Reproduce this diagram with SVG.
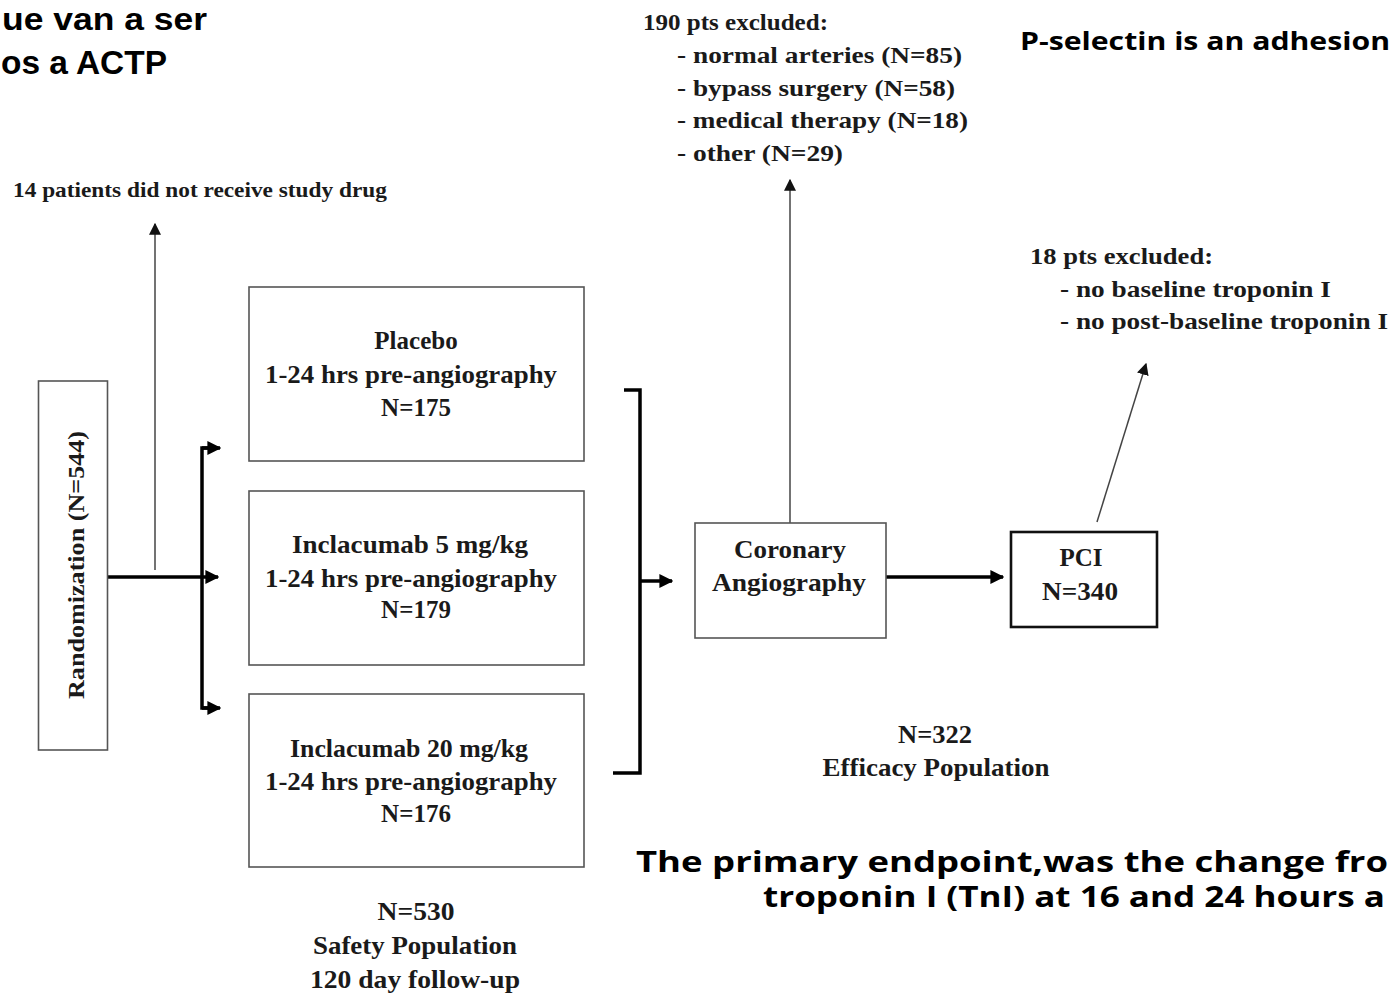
<svg xmlns="http://www.w3.org/2000/svg" width="1393" height="994" viewBox="0 0 1393 994">
<style>
.box{fill:#fff;stroke:#555;stroke-width:1.6}
.t{font-family:"Liberation Serif","Times New Roman",serif;font-weight:bold;fill:#1a1a1a}
.c{text-anchor:middle}
.big{font-family:"Open Sans","Liberation Sans",sans-serif;font-weight:bold;fill:#000}
.hd{font-family:"Liberation Sans",Arial,sans-serif;font-weight:bold;fill:#000}
.thick{stroke:#000;stroke-width:3.5;fill:none}
.thin{stroke:#444;stroke-width:1.5;fill:none}
</style>
<defs>
<marker id="ah" viewBox="0 0 10 10" refX="9" refY="5" markerWidth="4" markerHeight="4" markerUnits="strokeWidth" orient="auto"><path d="M0,0 L10,5 L0,10 Z" fill="#000"/></marker>
<marker id="ahThin" viewBox="0 0 10 10" refX="9" refY="5" markerWidth="8" markerHeight="8" markerUnits="strokeWidth" orient="auto"><path d="M0,0 L10,5 L0,10 Z" fill="#111"/></marker>
</defs>
<rect width="1393" height="994" fill="#fff"/>

<g id="header">
<text class="hd" x="2" y="30" font-size="32" textLength="205" lengthAdjust="spacingAndGlyphs">ue van a ser</text>
<text class="hd" x="1" y="74" font-size="34" textLength="166" lengthAdjust="spacingAndGlyphs">os a ACTP</text>
<text class="big" x="1020" y="50" font-size="25" textLength="370" lengthAdjust="spacingAndGlyphs">P-selectin is an adhesion</text>
</g>

<g id="connectors">
<path class="thick" d="M107,577 H218" marker-end="url(#ah)"/>
<path class="thin" d="M155,570 V224" marker-end="url(#ahThin)"/>
<path class="thick" d="M218,448 H202 V708 H218"/>
<path class="thick" d="M202,448 H220" marker-end="url(#ah)"/>
<path class="thick" d="M202,708 H220" marker-end="url(#ah)"/>
<path class="thick" d="M624,390 H640 V773 H613"/>
<path class="thick" d="M640,581 H672" marker-end="url(#ah)"/>
<path class="thick" d="M886,577 H1003" marker-end="url(#ah)"/>
<path class="thin" d="M790,523 V180" marker-end="url(#ahThin)"/>
<path class="thin" d="M1097,522 L1146,364" marker-end="url(#ahThin)"/>
</g>

<g id="excluded14">
<text class="t" x="13" y="197" font-size="21" textLength="374" lengthAdjust="spacingAndGlyphs">14 patients did not receive study drug</text>
</g>

<g id="randomization">
<rect class="box" x="38.5" y="381" width="69" height="369"/>
<text class="t c" transform="translate(84,565) rotate(-90)" font-size="23" textLength="268" lengthAdjust="spacingAndGlyphs">Randomization (N=544)</text>
</g>

<g id="placebo">
<rect class="box" x="249" y="287" width="335" height="174"/>
<text class="t c" x="416" y="349" font-size="25">Placebo</text>
<text class="t c" x="411" y="383" font-size="25" textLength="292" lengthAdjust="spacingAndGlyphs">1-24 hrs pre-angiography</text>
<text class="t c" x="416" y="416" font-size="25">N=175</text>
</g>

<g id="inclacumab5">
<rect class="box" x="249" y="491" width="335" height="174"/>
<text class="t c" x="410" y="553" font-size="25" textLength="236" lengthAdjust="spacingAndGlyphs">Inclacumab 5 mg/kg</text>
<text class="t c" x="411" y="587" font-size="25" textLength="292" lengthAdjust="spacingAndGlyphs">1-24 hrs pre-angiography</text>
<text class="t c" x="416" y="618" font-size="25">N=179</text>
</g>

<g id="inclacumab20">
<rect class="box" x="249" y="694" width="335" height="173"/>
<text class="t c" x="409" y="757" font-size="25" textLength="238" lengthAdjust="spacingAndGlyphs">Inclacumab 20 mg/kg</text>
<text class="t c" x="411" y="790" font-size="25" textLength="292" lengthAdjust="spacingAndGlyphs">1-24 hrs pre-angiography</text>
<text class="t c" x="416" y="822" font-size="25">N=176</text>
</g>

<g id="safety">
<text class="t c" x="416" y="920" font-size="25" textLength="77" lengthAdjust="spacingAndGlyphs">N=530</text>
<text class="t c" x="415" y="954" font-size="25" textLength="204" lengthAdjust="spacingAndGlyphs">Safety Population</text>
<text class="t c" x="415" y="988" font-size="25" textLength="210" lengthAdjust="spacingAndGlyphs">120 day follow-up</text>
</g>

<g id="coronary">
<rect class="box" x="695" y="523" width="191" height="115"/>
<text class="t c" x="790" y="558" font-size="26" textLength="112" lengthAdjust="spacingAndGlyphs">Coronary</text>
<text class="t c" x="789" y="591" font-size="26" textLength="154" lengthAdjust="spacingAndGlyphs">Angiography</text>
</g>

<g id="excluded190">
<text class="t" x="643" y="30" font-size="24" textLength="185" lengthAdjust="spacingAndGlyphs">190 pts excluded:</text>
<text class="t" x="677" y="63" font-size="24" textLength="285" lengthAdjust="spacingAndGlyphs">- normal arteries (N=85)</text>
<text class="t" x="677" y="96" font-size="24" textLength="278" lengthAdjust="spacingAndGlyphs">- bypass surgery (N=58)</text>
<text class="t" x="677" y="128" font-size="24" textLength="291" lengthAdjust="spacingAndGlyphs">- medical therapy (N=18)</text>
<text class="t" x="677" y="161" font-size="24" textLength="166" lengthAdjust="spacingAndGlyphs">- other (N=29)</text>
</g>

<g id="pci">
<rect x="1011" y="532" width="146" height="95" fill="#fff" stroke="#111" stroke-width="2.6"/>
<text class="t c" x="1081" y="566" font-size="25">PCI</text>
<text class="t c" x="1080" y="600" font-size="25" textLength="76" lengthAdjust="spacingAndGlyphs">N=340</text>
</g>

<g id="excluded18">
<text class="t" x="1030" y="264" font-size="24" textLength="183" lengthAdjust="spacingAndGlyphs">18 pts excluded:</text>
<text class="t" x="1060" y="297" font-size="24" textLength="271" lengthAdjust="spacingAndGlyphs">- no baseline troponin I</text>
<text class="t" x="1060" y="329" font-size="24" textLength="328" lengthAdjust="spacingAndGlyphs">- no post-baseline troponin I</text>
</g>

<g id="efficacy">
<text class="t c" x="935" y="743" font-size="26" textLength="74" lengthAdjust="spacingAndGlyphs">N=322</text>
<text class="t c" x="936" y="776" font-size="26" textLength="227" lengthAdjust="spacingAndGlyphs">Efficacy Population</text>
</g>

<g id="footer">
<text class="big" x="636" y="872" font-size="29" textLength="752" lengthAdjust="spacingAndGlyphs">The primary endpoint,was the change fro</text>
<text class="big" x="763" y="907" font-size="29" textLength="622" lengthAdjust="spacingAndGlyphs">troponin I (TnI) at 16 and 24 hours a</text>
</g>
</svg>
